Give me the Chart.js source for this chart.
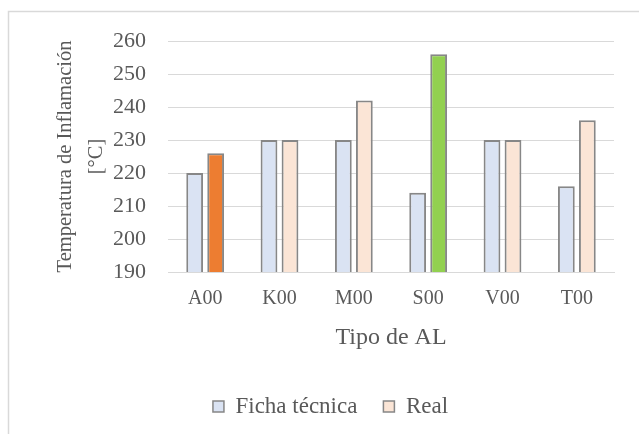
<!DOCTYPE html>
<html>
<head>
<meta charset="utf-8">
<script src="https://cdn.jsdelivr.net/npm/chart.js@4/dist/chart.umd.min.js"></script>
<style>
  html, body { margin: 0; padding: 0; background: #ffffff; }
  #wrap { width: 639px; height: 434px; position: relative; }
</style>
</head>
<body>
<div id="wrap"><canvas id="c" width="639" height="434"></canvas></div>
<script>
// Flash point per AL type: datasheet value vs. measured value
const categories = ['A00', 'K00', 'M00', 'S00', 'V00', 'T00'];
const fichaTecnica = [220, 230, 230, 214, 230, 216];
const real = [226, 230, 242, 256, 230, 236];
const yTicks = [190, 200, 210, 220, 230, 240, 250, 260];
const seriesNames = ['Ficha técnica', 'Real'];

const FONT = '"Liberation Serif", "Times New Roman", serif';
const TEXT = '#595959';
const EDGE = '#878787';
const BLUE = '#DAE3F3';
const PEACH = '#FBE5D6';
// highlighted measured bars
const realColors = categories.map(c => c === 'A00' ? '#ED7D31' : (c === 'S00' ? '#92D050' : PEACH));

// light frame around the chart
const framePlugin = {
  id: 'frame',
  beforeDraw(chart) {
    const ctx = chart.ctx;
    ctx.save();
    ctx.strokeStyle = '#D9D9D9';
    ctx.lineWidth = 1.5;
    ctx.beginPath();
    ctx.moveTo(8.5, chart.height);
    ctx.lineTo(8.5, 11.5);
    ctx.lineTo(chart.width, 11.5);
    ctx.stroke();
    ctx.restore();
  }
};

// nudge the legend row to the right
const legendShift = {
  id: 'legendShift',
  afterLayout(chart) {
    const lg = chart.legend;
    if (lg) { lg.left += 19; lg.right += 19; }
  }
};

new Chart(document.getElementById('c'), {
  type: 'bar',
  data: {
    labels: categories,
    datasets: [
      {
        label: seriesNames[0],
        data: fichaTecnica,
        backgroundColor: BLUE,
        borderColor: EDGE,
        borderWidth: 2,
        categoryPercentage: 0.565,
        barPercentage: 0.8
      },
      {
        label: seriesNames[1],
        data: real,
        backgroundColor: realColors,
        borderColor: EDGE,
        borderWidth: 2,
        categoryPercentage: 0.565,
        barPercentage: 0.8
      }
    ]
  },
  options: {
    responsive: false,
    animation: false,
    devicePixelRatio: 1,
    layout: { padding: { left: 9, right: 25, top: 41, bottom: 6 } },
    plugins: {
      tooltip: { enabled: false },
      legend: {
        position: 'bottom',
        labels: {
          color: TEXT,
          font: { family: FONT, size: 23 },
          boxWidth: 11,
          boxHeight: 11,
          padding: 26,
          generateLabels() {
            return [
              { text: seriesNames[0], fillStyle: BLUE, strokeStyle: EDGE, lineWidth: 1.5, datasetIndex: 0, fontColor: TEXT },
              { text: seriesNames[1], fillStyle: PEACH, strokeStyle: EDGE, lineWidth: 1.5, datasetIndex: 1, fontColor: TEXT }
            ];
          }
        }
      }
    },
    scales: {
      x: {
        grid: { display: false, drawTicks: false },
        border: { display: true, color: '#D9D9D9', width: 1 },
        ticks: { color: TEXT, font: { family: FONT, size: 20 }, padding: 15, maxRotation: 0 },
        title: {
          display: true,
          text: 'Tipo de AL',
          color: TEXT,
          font: { family: FONT, size: 24, lineHeight: 1.2 },
          padding: { top: 0, bottom: 16.6 }
        },
        afterFit(scale) { scale.height = 97; }
      },
      y: {
        min: 190,
        max: 260,
        afterBuildTicks(scale) { scale.ticks = yTicks.map(v => ({ value: v })); },
        grid: { color: '#D9D9D9', lineWidth: 1, drawTicks: false },
        border: { display: false },
        ticks: { color: TEXT, font: { family: FONT, size: 22 }, padding: 22 },
        title: {
          display: true,
          text: ['Temperatura de Inflamación', '[°C]'],
          color: TEXT,
          font: { family: FONT, size: 20.5, lineHeight: 1.5 },
          padding: { top: 41.5, bottom: 0 }
        },
        afterFit(scale) { scale.width = 159; }
      }
    }
  },
  plugins: [framePlugin, legendShift]
});
</script>
</body>
</html>
